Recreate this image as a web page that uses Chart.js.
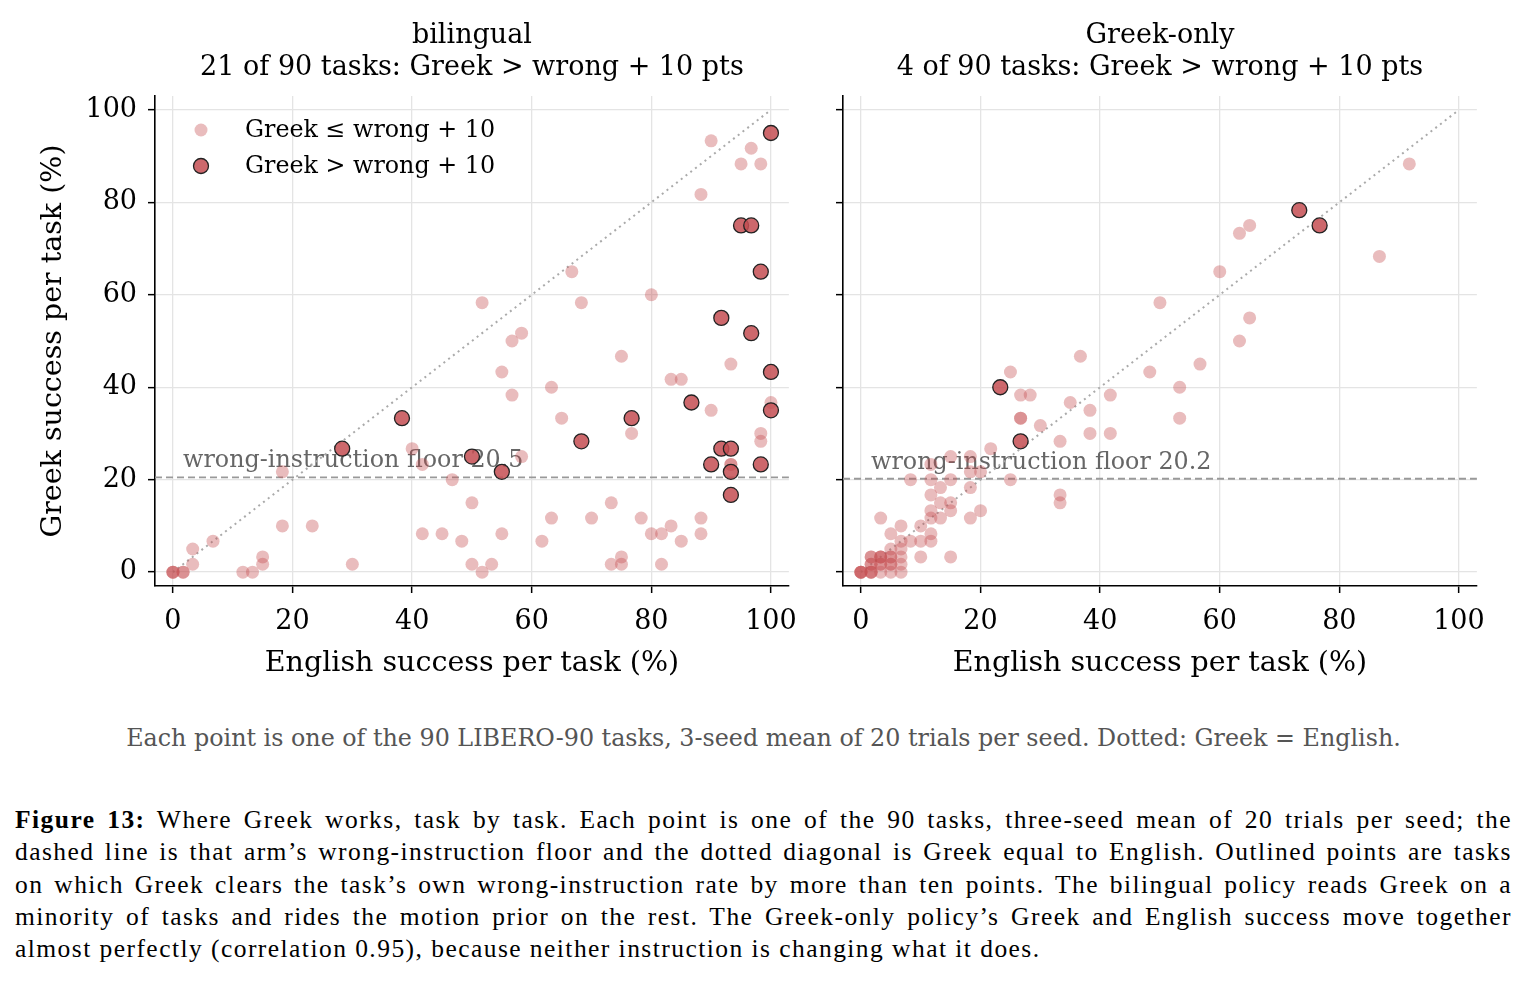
<!DOCTYPE html>
<html>
<head>
<meta charset="utf-8">
<script src="https://cdn.jsdelivr.net/npm/chart.js@4.4.0/dist/chart.umd.min.js"></script>
<style>
  body { margin: 0; background: #fff; width: 1527px; height: 983px; position: relative; overflow: hidden; }
  canvas { position: absolute; top: 0; }
  #leftChart { left: 0; }
  #rightChart { left: 800px; }
  #note { position: absolute; top: 724px; left: 0; width: 1527px; text-align: center;
    font-family: "DejaVu Serif"; font-size: 23.8px; color: #555; }
  #caption { position: absolute; top: 804px; left: 15px; width: 1497px;
    font-family: "Liberation Serif"; font-size: 25.5px; letter-spacing: 1.45px; color: #000; line-height: 32.3px; }
  #caption div { text-align: justify; text-align-last: justify; }
  #caption div.last { text-align-last: left; }
</style>
</head>
<body>
<canvas id="leftChart" width="810" height="690"></canvas>
<canvas id="rightChart" width="698" height="690"></canvas>
<div id="note">Each point is one of the 90 LIBERO-90 tasks, 3-seed mean of 20 trials per seed. Dotted: Greek = English.</div>
<div id="caption">
  <div><b>Figure 13:</b> Where Greek works, task by task. Each point is one of the 90 tasks, three-seed mean of 20 trials per seed; the</div>
  <div>dashed line is that arm’s wrong-instruction floor and the dotted diagonal is Greek equal to English. Outlined points are tasks</div>
  <div>on which Greek clears the task’s own wrong-instruction rate by more than ten points. The bilingual policy reads Greek on a</div>
  <div>minority of tasks and rides the motion prior on the rest. The Greek-only policy’s Greek and English success move together</div>
  <div class="last">almost perfectly (correlation 0.95), because neither instruction is changing what it does.</div>
</div>
<script>
// bilingual arm: tasks where Greek <= wrong + 10
var biFaintEnglish = [0, 0, 0, 1.7, 1.7, 3.3, 3.3, 6.7, 18.3, 18.3, 23.3, 11.7, 13.3, 15, 15, 30,
  40, 41.7, 41.7, 45, 46.7, 48.3, 50, 50, 51.7, 53.3, 51.7, 55, 55, 56.7, 56.7, 58.3, 58.3,
  61.7, 63.3, 63.3, 65, 66.7, 68.3, 70, 73.3, 73.3, 75, 75, 75, 76.7, 78.3, 80, 80, 81.7, 81.7,
  83.3, 83.3, 85, 85, 88.3, 88.3, 88.3, 90, 90, 93.3, 95, 96.7, 98.3, 98.3, 98.3, 100, 93.3, 93.3];
var biFaintGreek = [0, 0, 0, 0, 0, 5, 1.7, 6.7, 21.7, 10, 10, 0, 0, 3.3, 1.7, 1.7,
  26.7, 23.3, 8.3, 8.3, 20, 6.7, 15, 1.7, 0, 1.7, 58.3, 43.3, 8.3, 38.3, 50, 51.7, 25,
  6.7, 40, 11.7, 33.3, 65, 58.3, 11.7, 15, 1.7, 46.7, 3.3, 1.7, 30, 11.7, 60, 8.3, 8.3, 1.7,
  41.7, 10, 41.7, 6.7, 81.7, 11.7, 8.3, 93.3, 35, 45, 88.3, 91.7, 88.3, 30, 28.3, 36.7, 23.3, 23.3];
// bilingual arm: tasks where Greek > wrong + 10
var biClearEnglish = [100, 95, 96.7, 98.3, 91.7, 96.7, 100, 100, 38.3, 28.3, 50, 55, 68.3,
  76.7, 86.7, 91.7, 93.3, 90, 93.3, 93.3, 98.3];
var biClearGreek = [95, 75, 75, 65, 55, 51.7, 43.3, 35, 33.3, 26.7, 25, 21.7, 28.3,
  33.3, 36.7, 26.7, 26.7, 23.3, 21.7, 16.7, 23.3];

// Greek-only arm
var grFaintEnglish = [91.7, 86.7, 65, 63.3, 60, 50, 65, 63.3, 56.7, 48.3, 53.3, 53.3, 36.7, 25,
  26.7, 28.3, 26.7, 26.7, 30, 35, 38.3, 41.7, 38.3, 41.7, 33.3, 21.7,
  15, 18.3, 11.7, 18.3, 20, 8.3, 11.7, 15, 25, 13.3, 18.3, 33.3, 33.3, 11.7, 13.3, 15, 15, 11.7,
  20, 13.3, 11.7, 18.3, 3.3, 6.7, 10, 5, 11.7, 6.7, 8.3, 10, 11.7, 5, 6.7, 1.7, 3.3, 3.3, 5,
  6.7, 10, 15, 1.7, 3.3, 5, 0, 1.7, 5, 6.7,
  0, 0, 0, 1.7, 1.7, 1.7, 3.3, 3.3, 5, 6.7, 1.7, 5, 3.3];
var grFaintGreek = [88.3, 68.3, 75, 73.3, 65, 58.3, 55, 50, 45, 43.3, 40, 33.3, 46.7, 43.3,
  38.3, 38.3, 33.3, 33.3, 31.7, 36.7, 35, 38.3, 30, 30, 28.3, 26.7,
  25, 25, 23.3, 21.7, 21.7, 20, 20, 20, 20, 18.3, 18.3, 16.7, 15, 16.7, 15, 15, 13.3, 13.3,
  13.3, 11.7, 11.7, 11.7, 11.7, 10, 10, 8.3, 8.3, 6.7, 6.7, 6.7, 6.7, 5, 5, 3.3, 3.3, 3.3, 3.3,
  3.3, 3.3, 3.3, 1.7, 1.7, 1.7, 0, 0, 0, 0,
  0, 0, 0, 0, 0, 1.7, 1.7, 3.3, 1.7, 1.7, 3.3, 3.3, 0];
var grClearEnglish = [73.3, 76.7, 23.3, 26.7];
var grClearGreek = [78.3, 75, 40, 28.3];

var floorValues = [20.5, 20.2];
var panelTitles = [
  ["bilingual", "21 of 90 tasks: Greek > wrong + 10 pts"],
  ["Greek-only", "4 of 90 tasks: Greek > wrong + 10 pts"]
];
var tickValues = [0, 20, 40, 60, 80, 100];
var diagonal = [0, 100];
var legendLabels = ["Greek \u2264 wrong + 10", "Greek > wrong + 10"];

var SERIF = '"DejaVu Serif"';
var faintColor = "rgba(196, 78, 82, 0.38)";
var clearColor = "rgba(196, 78, 82, 0.85)";

function toPoints(xs, ys) {
  return xs.map((x, i) => ({ x: x, y: ys[i] }));
}

var decorPlugin = {
  id: "panelDecor",
  beforeDatasetsDraw: function (chart, args, opts) {
    var ctx = chart.ctx;
    var area = chart.chartArea;
    var fy = chart.scales.y.getPixelForValue(opts.floor);
    ctx.save();
    ctx.strokeStyle = "#999";
    ctx.lineWidth = 1.8;
    ctx.setLineDash([7, 4]);
    ctx.beginPath();
    ctx.moveTo(area.left, fy);
    ctx.lineTo(area.right, fy);
    ctx.stroke();
    ctx.fillStyle = "#666";
    ctx.font = "23.8px " + SERIF;
    ctx.textBaseline = "alphabetic";
    ctx.textAlign = "left";
    ctx.fillText("wrong-instruction floor " + opts.floor.toFixed(1),
      chart.scales.x.getPixelForValue(1.7), fy - 10);
    ctx.restore();
  },
  afterDraw: function (chart, args, opts) {
    var ctx = chart.ctx;
    var area = chart.chartArea;
    var cx = (area.left + area.right) / 2;
    ctx.save();
    ctx.fillStyle = "#000";
    ctx.font = "27px " + SERIF;
    ctx.textAlign = "center";
    ctx.textBaseline = "middle";
    ctx.fillText(opts.title[0], cx, 36);
    ctx.fillText(opts.title[1], cx, 68);

    if (opts.legend) {
      // legend in the upper left corner of the plot
      var lx = area.left + 46;
      var rows = [area.top + 34, area.top + 70];
      ctx.font = "23.8px " + SERIF;
      ctx.textAlign = "left";
      rows.forEach(function (ry, i) {
        ctx.beginPath();
        ctx.arc(lx, ry, i == 0 ? 6.5 : 7.5, 0, Math.PI * 2);
        ctx.fillStyle = i == 0 ? faintColor : clearColor;
        ctx.fill();
        if (i == 1) {
          ctx.strokeStyle = "#222";
          ctx.lineWidth = 1.3;
          ctx.stroke();
        }
        ctx.fillStyle = "#000";
        ctx.fillText(legendLabels[i], lx + 44, ry + 1);
      });
    }
    ctx.restore();
  },
};

function makeScales(showYLabels, yWidth) {
  return {
    x: {
      type: "linear",
      min: -3,
      max: 103,
      afterBuildTicks: (s) => { s.ticks = tickValues.map((v) => ({ value: v })); },
      afterFit: (s) => { s.height = 104; },
      grid: { color: "#e4e4e4", lineWidth: 1.3, tickLength: 7, tickColor: "#000", tickWidth: 1.5 },
      border: { display: true, color: "#000", width: 1.6 },
      ticks: { font: { family: "DejaVu Serif", size: 27 }, color: "#000", padding: 13, maxRotation: 0 },
      title: {
        display: true,
        text: "English success per task (%)",
        font: { family: "DejaVu Serif", size: 28.5 },
        color: "#000",
        padding: { top: 0, bottom: 9 },
      },
    },
    y: {
      type: "linear",
      min: -3,
      max: 103,
      afterBuildTicks: (s) => { s.ticks = tickValues.map((v) => ({ value: v })); },
      afterFit: (s) => { s.width = yWidth; },
      grid: { color: "#e4e4e4", lineWidth: 1.3, tickLength: 7, tickColor: "#000", tickWidth: 1.5 },
      border: { display: true, color: "#000", width: 1.6 },
      ticks: {
        font: { family: "DejaVu Serif", size: 27 },
        color: "#000",
        padding: 11,
        callback: (v) => (showYLabels ? v : ""),
      },
      title: {
        display: showYLabels,
        text: "Greek success per task (%)",
        font: { family: "DejaVu Serif", size: 28.5 },
        color: "#000",
        padding: { top: 36, bottom: 0 },
      },
    },
  };
}

function makePanel(canvasId, faintX, faintY, clearX, clearY, idx, yWidth) {
  var ctx = document.getElementById(canvasId);
  return new Chart(ctx, {
    type: "scatter",
    data: {
      datasets: [
        {
          label: "Greek = English",
          type: "line",
          data: toPoints(diagonal, diagonal),
          borderColor: "#aaa",
          borderWidth: 2,
          borderDash: [2, 4],
          pointRadius: 0,
          showLine: true,
          order: 3,
        },
        {
          label: legendLabels[0],
          data: toPoints(faintX, faintY),
          backgroundColor: faintColor,
          borderWidth: 0,
          pointRadius: 6.5,
          order: 2,
        },
        {
          label: legendLabels[1],
          data: toPoints(clearX, clearY),
          backgroundColor: clearColor,
          borderColor: "#222",
          borderWidth: 1.3,
          pointRadius: 7.5,
          order: 1,
        },
      ],
    },
    options: {
      responsive: false,
      animation: false,
      events: [],
      layout: { padding: { top: 96, right: 10, bottom: 0, left: 0 } },
      scales: makeScales(idx == 0, yWidth),
      plugins: {
        legend: { display: false },
        tooltip: { enabled: false },
        panelDecor: { floor: floorValues[idx], title: panelTitles[idx], legend: idx == 0 },
      },
    },
    plugins: [decorPlugin],
  });
}

makePanel("leftChart", biFaintEnglish, biFaintGreek, biClearEnglish, biClearGreek, 0, 155);
makePanel("rightChart", grFaintEnglish, grFaintGreek, grClearEnglish, grClearGreek, 1, 43);
</script>
</body>
</html>
